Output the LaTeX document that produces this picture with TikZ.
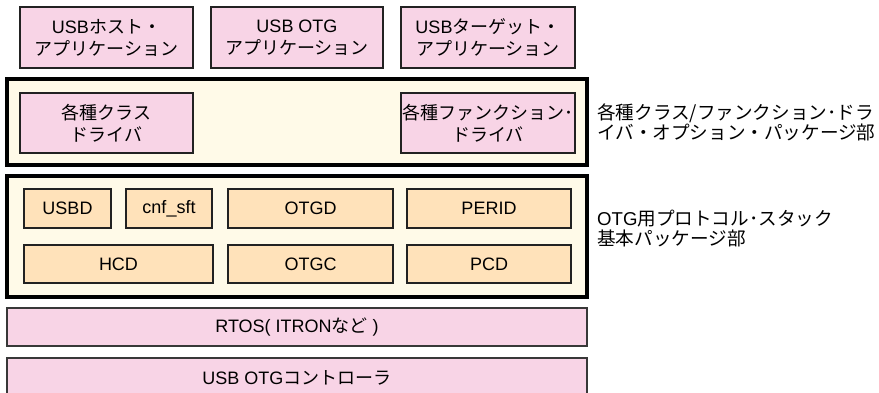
\documentclass[tikz,border=0pt]{standalone}
\usepackage{fontspec}
\setmainfont{Liberation Sans}
\newfontfamily\jp{Noto Sans CJK JP}
\definecolor{pinkc}{HTML}{F8D4E6}
\definecolor{creamc}{HTML}{FFFAE8}
\definecolor{orangec}{HTML}{FFE2BA}
\definecolor{edgec}{HTML}{222222}
\begin{document}
\begin{tikzpicture}[x=1pt,y=-1pt,
  txt/.style={font=\fontsize{18}{22}\selectfont},
  appbox/.style={txt, draw=edgec, line width=1.2pt, fill=pinkc, inner sep=0pt, align=center, minimum height=61pt},
  drvbox/.style={txt, draw=edgec, line width=1.2pt, fill=pinkc, inner sep=0pt, align=center, minimum height=60pt, minimum width=174pt},
  bandbox/.style={draw=black, line width=3.4pt, fill=creamc, inner sep=0pt, minimum width=580pt},
  modbox/.style={txt, draw=edgec, line width=1.2pt, fill=orangec, inner sep=0pt, align=center},
  basebox/.style={txt, draw=edgec!90, line width=1.8pt, fill=pinkc, inner sep=0pt, minimum width=580pt, minimum height=38pt},
  sidelabel/.style={font=\fontsize{18.6}{20}\selectfont, anchor=west, align=left, inner sep=0pt}]
\useasboundingbox (0,0) rectangle (879,392);

% top application boxes
\node[appbox, minimum width=173pt] (hostapp) at (106.5,37.5) {USB{\jp ホスト・}\\{\jp アプリケーション}};
\node[appbox, minimum width=172pt] (otgapp) at (297,37.5) {USB OTG\\{\jp アプリケーション}};
\node[appbox, minimum width=174pt] (tgtapp) at (488,37.5) {USB{\jp ターゲット・}\\{\jp アプリケーション}};

% class/function driver band
\node[bandbox, minimum height=86pt] (band1) at (297,122) {};
\node[drvbox, minimum width=173pt] (clsdrv) at (106.5,123) {{\jp 各種クラス}\\{\jp ドライバ}};
\node[drvbox] (fndrv) at (488,123) {{\jp 各種ファンクション･}\\{\jp ドライバ}};
\node[sidelabel] (lab1) at (597,122) {{\jp 各種クラス/ファンクション･ドラ}\\{\jp イバ・オプション・パッケージ部}};

% protocol stack band
\node[bandbox, minimum height=121pt] (band2) at (297,236.5) {};
\node[modbox, minimum width=87pt, minimum height=39pt] (usbd) at (67.5,208.5) {USBD};
\node[modbox, minimum width=86pt, minimum height=39pt] (cnf) at (169,208.5) {cnf\_sft};
\node[modbox, minimum width=165pt, minimum height=39pt] (otgd) at (310.5,208.5) {OTGD};
\node[modbox, minimum width=164pt, minimum height=39pt] (perid) at (489,208.5) {PERID};
\node[modbox, minimum width=189pt, minimum height=38pt] (hcd) at (118.5,264) {HCD};
\node[modbox, minimum width=165pt, minimum height=38pt] (otgc) at (310.5,264) {OTGC};
\node[modbox, minimum width=164pt, minimum height=38pt] (pcd) at (489,264) {PCD};
\node[sidelabel] (lab2) at (597,229) {OTG{\jp 用プロトコル･スタック}\\{\jp 基本パッケージ部}};

% base layers
\node[basebox] (rtos) at (297,327) {RTOS( ITRON{\jp など} )};
\node[basebox, minimum height=39pt] (ctrl) at (297,377.5) {USB OTG{\jp コントローラ}};
\end{tikzpicture}
\end{document}
